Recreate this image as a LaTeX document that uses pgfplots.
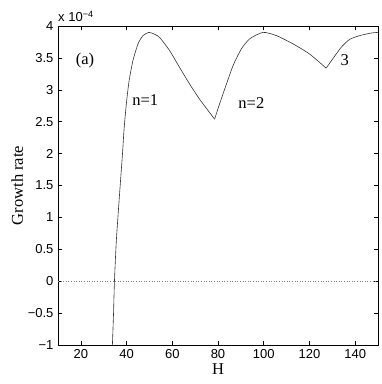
\documentclass[border=0pt]{standalone}
\usepackage{fontspec}
\setmainfont{Liberation Serif}
\setsansfont{Liberation Sans}
\usepackage{pgfplots}
\pgfplotsset{compat=1.18}
\begin{document}
\begin{tikzpicture}
\begin{axis}[
  scale only axis,
  width=320pt, height=319pt,
  xmin=10, xmax=150, ymin=-1, ymax=4,
  xtick={20,40,60,80,100,120,140},
  ytick={-1,-0.5,0,0.5,1,1.5,2,2.5,3,3.5,4},
  yticklabels={−1,−0.5,0,0.5,1,1.5,2,2.5,3,3.5,4},
  tick align=inside, tick pos=both,
  major tick length=4pt,
  tick style={black, line width=0.5pt},
  axis line style={black, line width=0.7pt},
  /pgf/number format/assume math mode=true,
  tick label style={font=\sffamily\fontsize{13}{15}\selectfont},
  xticklabel style={yshift=-1pt},
  yticklabel style={xshift=-1pt},
  xlabel={H},
  ylabel={Growth rate},
  label style={font=\fontsize{16.5}{18}\selectfont},
  xlabel style={yshift=2pt},
  ylabel style={yshift=-2pt},
  clip mode=individual,
]
\addplot[gray, dotted, line width=0.6pt] coordinates {(10,0) (150,0)};
\addplot[black!80, line width=0.6pt, smooth, tension=0.4] coordinates {
(33.8,-1.0) (34.3,-0.5) (34.7,0.0) (35.5,0.62) (36.7,1.25) (38.2,1.99)
(38.9,2.38) (39.9,2.78) (41.1,3.14) (42.8,3.46) (45.0,3.72) (47.2,3.85)
(49.8,3.90) (52.3,3.87) (54.5,3.82) (58.9,3.61)
(63.2,3.35) (67.6,3.09) (72.0,2.85) (76.4,2.64) (78.5,2.54)
};
\addplot[black!80, line width=0.6pt, smooth, tension=0.4] coordinates {
(78.5,2.54) (80.7,2.78) (83.7,3.09) (86.6,3.38) (90.2,3.64) (93.9,3.80)
(99.7,3.90) (105.5,3.85) (112.8,3.72) (120.1,3.56) (127.3,3.34)
};
\addplot[black!80, line width=0.6pt, smooth, tension=0.4] coordinates {
(127.3,3.34) (130.3,3.49) (134.0,3.67) (137.6,3.79) (142.0,3.85) (147.1,3.89) (150,3.90)
};
\node[font=\fontsize{16.5}{18}\selectfont] at (axis cs:21.8,3.46) {(a)};
\node[font=\fontsize{16.5}{18}\selectfont] at (axis cs:48.2,2.84) {n=1};
\node[font=\fontsize{16.5}{18}\selectfont] at (axis cs:94.6,2.79) {n=2};
\node[font=\fontsize{16.5}{18}\selectfont] at (axis cs:135.4,3.46) {3};
\node[anchor=base west, inner sep=0pt, font=\sffamily\fontsize{13}{15}\selectfont]
  at ([yshift=4.5pt]rel axis cs:0,1) {x 10\textsuperscript{−4}};
\end{axis}
\pgfresetboundingbox
\path (current axis.south west) ++(-58pt,-39pt) rectangle ++(382pt,384pt);
\end{tikzpicture}
\end{document}
